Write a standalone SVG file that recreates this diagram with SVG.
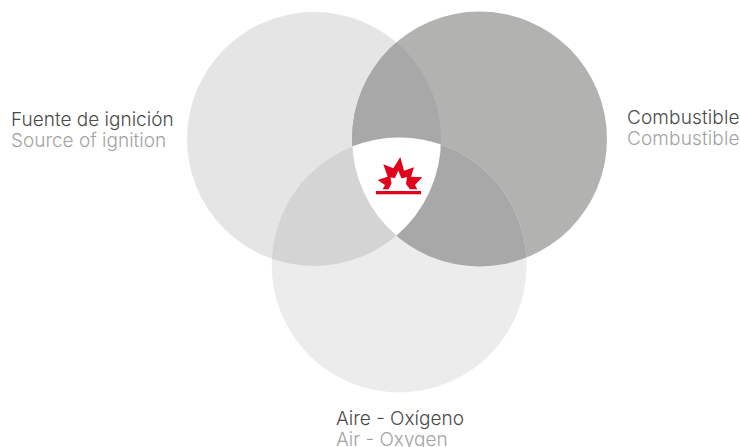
<svg xmlns="http://www.w3.org/2000/svg" width="740" height="447" viewBox="0 0 740 447">
<style>
.t{font-family:"Inter","Liberation Sans",sans-serif;font-weight:300;font-size:19px}
.a{fill:#4a4a49}
.b{fill:#a3a3a2}
</style>
<defs>
<clipPath id="cl"><circle cx="314" cy="139" r="127"/></clipPath>
<clipPath id="cr"><circle cx="479.5" cy="139" r="127.5"/></clipPath>
<clipPath id="clr" clip-path="url(#cl)"><circle cx="479.5" cy="139" r="127.5"/></clipPath>
</defs>
<rect width="740" height="447" fill="#fff"/>
<g id="node-ignition">
<circle cx="314" cy="139" r="127" fill="#e5e5e5"/>
</g>
<g id="node-fuel">
<circle cx="479.5" cy="139" r="127.5" fill="#b2b2b1"/>
</g>
<g id="node-air">
<circle cx="399.2" cy="265" r="127.5" fill="#ececec"/>
</g>
<g id="overlaps">
<circle cx="479.5" cy="139" r="127.5" fill="#a8a8a8" clip-path="url(#cl)"/>
<circle cx="399.2" cy="265" r="127.5" fill="#d4d4d4" clip-path="url(#cl)"/>
<circle cx="399.2" cy="265" r="127.5" fill="#a8a8a8" clip-path="url(#cr)"/>
<circle cx="399.2" cy="265" r="127.5" fill="#fff" clip-path="url(#clr)"/>
</g>
<g id="node-fire">
<polygon fill="#e2001a" points="400.3,157 404,170.7 414,167.3 411,176.7 422.3,177.3 415,185 417.3,189.3 410,189.3 406,184 407,177 401.5,178.5 398.3,170.5 395,178 390.5,177.5 391.5,183.5 388.5,189.3 382.7,189.3 385,185 377.7,180 387.7,176.7 383.3,164.3 393.3,168.3"/>
<rect x="376" y="191" width="45" height="3.3" fill="#e2001a"/>
</g>
<g id="labels">
<text class="t a" x="11" y="126">Fuente de ignición</text>
<text class="t b" x="11" y="147">Source of ignition</text>
<text class="t a" x="627" y="124" textLength="112.5">Combustible</text>
<text class="t b" x="627" y="145" textLength="112.5">Combustible</text>
<text class="t a" x="336" y="425">Aire - Oxígeno</text>
<text class="t b" x="336" y="446">Air - Oxygen</text>
</g>
</svg>
